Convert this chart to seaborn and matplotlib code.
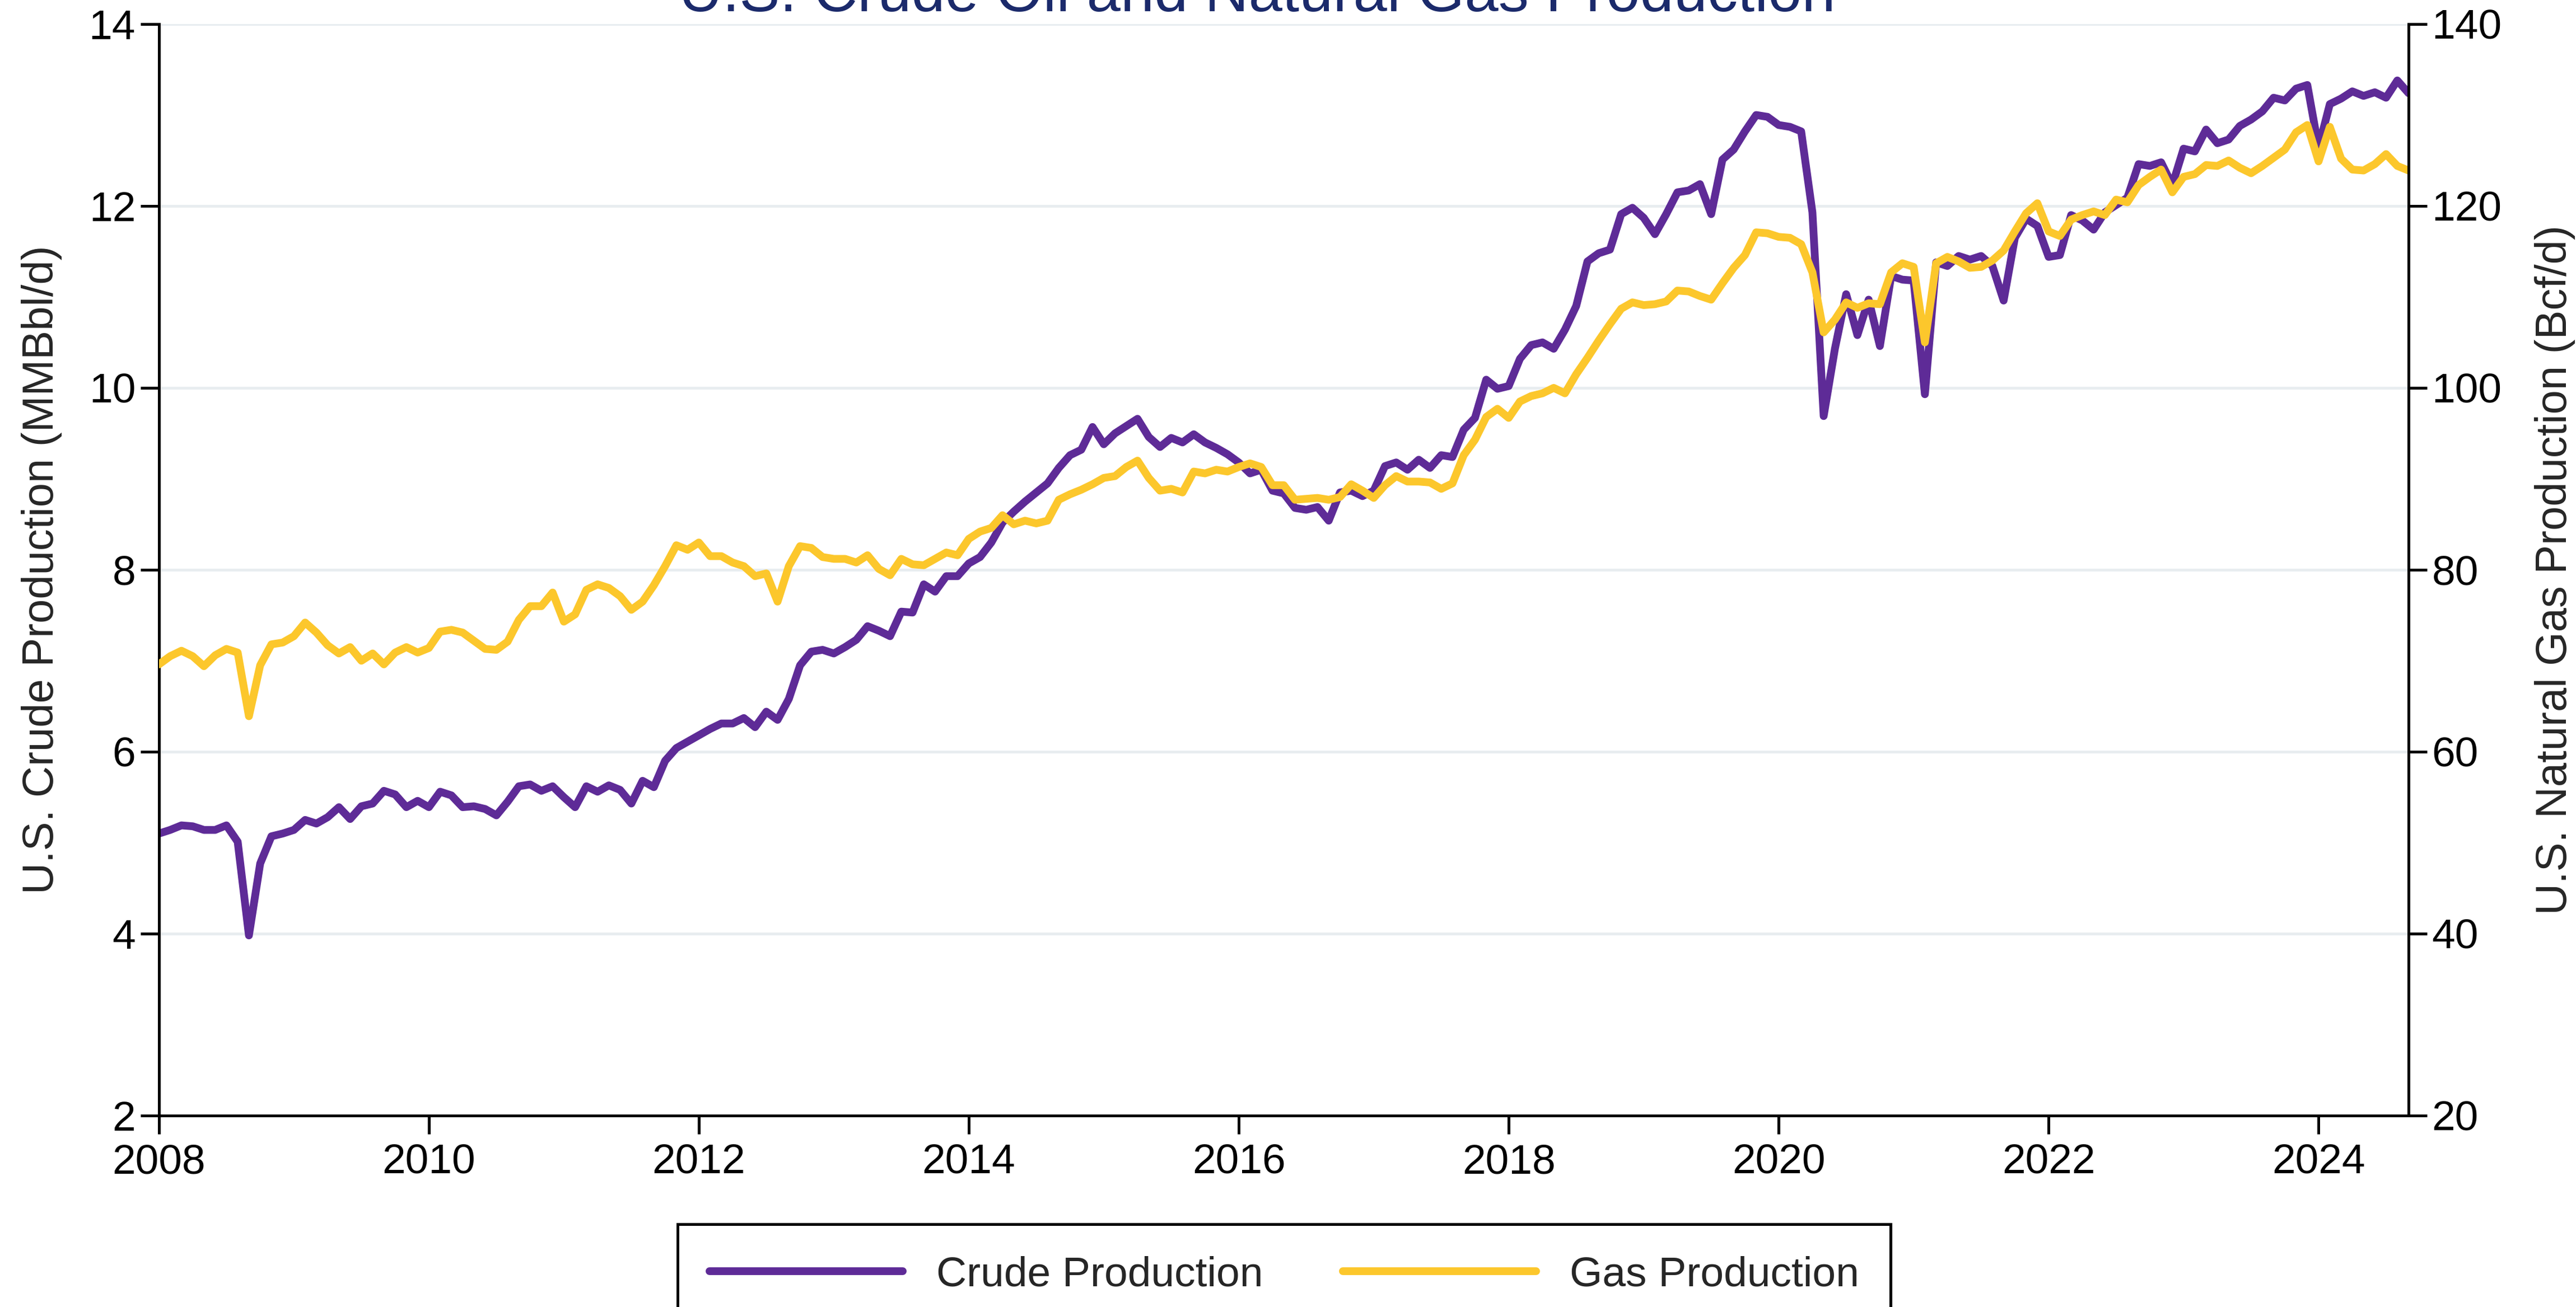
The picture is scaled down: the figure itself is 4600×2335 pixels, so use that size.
import numpy as np
import pandas as pd
import matplotlib
matplotlib.use("Agg")
import matplotlib.pyplot as plt
from matplotlib.lines import Line2D
import seaborn as sns

# Monthly U.S. production, Jan 2008 - Sep 2024
# crude oil, MMBbl/d
crude = [
    5.10, 5.14, 5.19, 5.18, 5.14, 5.14, 5.19, 5.01, 3.98, 4.77, 5.07, 5.10,   # 2008
    5.14, 5.25, 5.21, 5.28, 5.39, 5.26, 5.40, 5.43, 5.57, 5.53, 5.39, 5.46,   # 2009
    5.39, 5.56, 5.52, 5.39, 5.40, 5.37, 5.30, 5.45, 5.62, 5.64, 5.57, 5.62,   # 2010
    5.50, 5.39, 5.62, 5.56, 5.63, 5.58, 5.43, 5.68, 5.61, 5.90, 6.04, 6.11,   # 2011
    6.18, 6.25, 6.31, 6.31, 6.37, 6.27, 6.44, 6.35, 6.58, 6.95, 7.10, 7.12,   # 2012
    7.08, 7.15, 7.23, 7.38, 7.33, 7.27, 7.54, 7.53, 7.84, 7.76, 7.93, 7.93,   # 2013
    8.07, 8.14, 8.30, 8.52, 8.64, 8.75, 8.85, 8.95, 9.12, 9.26, 9.32, 9.57,   # 2014
    9.38, 9.50, 9.58, 9.66, 9.46, 9.35, 9.45, 9.40, 9.49, 9.40, 9.34, 9.27,   # 2015
    9.18, 9.06, 9.10, 8.87, 8.84, 8.68, 8.66, 8.69, 8.54, 8.85, 8.87, 8.81,   # 2016
    8.87, 9.14, 9.18, 9.10, 9.21, 9.12, 9.26, 9.24, 9.54, 9.67, 10.09, 9.99,  # 2017
    10.02, 10.32, 10.47, 10.50, 10.43, 10.64, 10.90, 11.39, 11.48, 11.52, 11.91, 11.98,  # 2018
    11.87, 11.69, 11.91, 12.15, 12.17, 12.24, 11.91, 12.51, 12.62, 12.82, 13.00, 12.98,  # 2019
    12.89, 12.87, 12.82, 11.93, 9.69, 10.43, 11.03, 10.58, 10.97, 10.46, 11.23, 11.19,   # 2020
    11.18, 9.93, 11.38, 11.34, 11.45, 11.41, 11.45, 11.34, 10.96, 11.65, 11.86, 11.78,   # 2021
    11.44, 11.46, 11.90, 11.84, 11.74, 11.93, 12.01, 12.09, 12.46, 12.44, 12.48, 12.23,  # 2022
    12.63, 12.60, 12.84, 12.69, 12.73, 12.88, 12.95, 13.04, 13.19, 13.16, 13.29, 13.33,  # 2023
    12.64, 13.12, 13.18, 13.26, 13.21, 13.25, 13.19, 13.38, 13.24,                       # 2024
]

# natural gas, Bcf/d
gas = [
    69.6, 70.5, 71.1, 70.5, 69.4, 70.6, 71.3, 70.9, 63.9, 69.5, 71.8, 72.0,   # 2008
    72.7, 74.2, 73.1, 71.7, 70.8, 71.5, 70.0, 70.8, 69.6, 70.9, 71.5, 70.9,   # 2009
    71.4, 73.2, 73.4, 73.1, 72.2, 71.3, 71.2, 72.1, 74.5, 76.0, 76.0, 77.5,   # 2010
    74.3, 75.1, 77.8, 78.4, 78.0, 77.1, 75.6, 76.5, 78.3, 80.4, 82.7, 82.2,   # 2011
    83.0, 81.5, 81.5, 80.8, 80.4, 79.3, 79.6, 76.5, 80.4, 82.6, 82.4, 81.4,   # 2012
    81.2, 81.2, 80.8, 81.6, 80.1, 79.4, 81.2, 80.6, 80.5, 81.2, 81.9, 81.6,   # 2013
    83.4, 84.2, 84.6, 86.0, 85.0, 85.4, 85.1, 85.4, 87.7, 88.3, 88.8, 89.4,   # 2014
    90.1, 90.3, 91.3, 92.0, 90.1, 88.7, 88.9, 88.5, 90.8, 90.6, 91.0, 90.8,   # 2015
    91.3, 91.7, 91.3, 89.3, 89.3, 87.7, 87.8, 87.9, 87.7, 88.0, 89.4, 88.7,   # 2016
    87.9, 89.3, 90.3, 89.7, 89.7, 89.6, 88.9, 89.5, 92.6, 94.3, 96.8, 97.7,   # 2017
    96.7, 98.5, 99.1, 99.4, 100.0, 99.4, 101.5, 103.3, 105.2, 107.0, 108.7, 109.4,      # 2018
    109.1, 109.2, 109.5, 110.7, 110.6, 110.1, 109.7, 111.5, 113.2, 114.6, 117.1, 117.0, # 2019
    116.6, 116.5, 115.8, 112.7, 106.1, 107.5, 109.4, 108.8, 109.3, 109.2, 112.7, 113.7, # 2020
    113.3, 105.0, 113.7, 114.4, 113.9, 113.2, 113.3, 114.0, 115.1, 117.2, 119.2, 120.3, # 2021
    117.2, 116.7, 118.5, 119.0, 119.4, 119.0, 120.7, 120.4, 122.3, 123.2, 124.0, 121.5, # 2022
    123.2, 123.5, 124.5, 124.4, 125.0, 124.2, 123.6, 124.4, 125.3, 126.2, 128.1, 128.9, # 2023
    124.9, 128.7, 125.2, 124.0, 123.9, 124.6, 125.7, 124.4, 123.9,                      # 2024
]

dates = pd.date_range("2008-01-01", periods=len(crude), freq="MS")
df = pd.DataFrame({"date": dates, "crude": crude, "gas": gas})
# decimal year for the x axis
df["year"] = df.date.dt.year + (df.date.dt.month - 1) / 12

x_ticks = list(range(2008, 2025, 2))
crude_ticks = list(range(2, 15, 2))
gas_ticks = list(range(20, 141, 20))

PURPLE = "#5E2B97"
GOLD = "#FCC72C"
GRID = "#E8EDF0"
NAVY = "#1B2A6B"
LW = 5.0

sns.set_style("white")
plt.rcParams["font.family"] = ["Liberation Sans", "DejaVu Sans"]

fig = plt.figure(figsize=(23, 11.675), dpi=200)
ax = fig.add_axes([0.0617, 0.1465, 0.9350 - 0.0617, 0.9816 - 0.1465])
ax2 = ax.twinx()

sns.lineplot(x="year", y="crude", data=df, ax=ax, color=PURPLE, linewidth=LW, legend=False)
sns.lineplot(x="year", y="gas", data=df, ax=ax2, color=GOLD, linewidth=LW, legend=False)

# axes limits / ticks
ax.set_xlim(df.year.min(), df.year.max())
ax.set_xticks(x_ticks)
ax.set_xticklabels([str(t) for t in x_ticks])
ax.set_ylim(2, 14)
ax.set_yticks(crude_ticks)
ax2.set_ylim(20, 140)
ax2.set_yticks(gas_ticks)

# horizontal grid only
ax.set_axisbelow(True)
ax.yaxis.grid(True, color=GRID, linewidth=1.8)
ax.xaxis.grid(False)
ax2.grid(False)

for a in (ax, ax2):
    a.spines["top"].set_visible(False)
    for s in ("left", "right", "bottom"):
        a.spines[s].set_color("black")
        a.spines[s].set_linewidth(1.8)
ax2.spines["left"].set_visible(False)
ax2.spines["bottom"].set_visible(False)

ax.tick_params(axis="both", direction="out", length=12, width=1.8,
               labelsize=27, pad=3, colors="black", left=True, bottom=True)
ax.tick_params(axis="x", pad=6)
ax2.tick_params(axis="y", direction="out", length=12, width=1.8,
                labelsize=27, pad=3, colors="black", right=True)

ax.set_xlabel("")
ax.set_ylabel("U.S. Crude Production (MMBbl/d)", fontsize=28)
ax.yaxis.set_label_coords(-0.043, 0.5)
ax2.set_ylabel("U.S. Natural Gas Production (Bcf/d)", fontsize=28, rotation=90)
ax2.yaxis.set_label_coords(1.056, 0.5)

# title sits mostly above the canvas, as in the reference
fig.text(0.488, 1 - 20 / 2335, "U.S. Crude Oil and Natural Gas Production",
         ha="center", va="baseline", fontsize=39, color=NAVY)

handles = [Line2D([], [], color=PURPLE, linewidth=LW),
           Line2D([], [], color=GOLD, linewidth=LW)]
leg = fig.legend(handles, ["Crude Production", "Gas Production"],
                 loc="upper center", bbox_to_anchor=(0.4985, 0.0634), ncol=2,
                 frameon=True, fancybox=False, fontsize=27, handlelength=4.6,
                 handletextpad=0.8, columnspacing=1.9, borderpad=0.75,
                 borderaxespad=0, framealpha=1, edgecolor="black")
leg.get_frame().set_linewidth(1.8)

fig.savefig("out.png", dpi=200)
